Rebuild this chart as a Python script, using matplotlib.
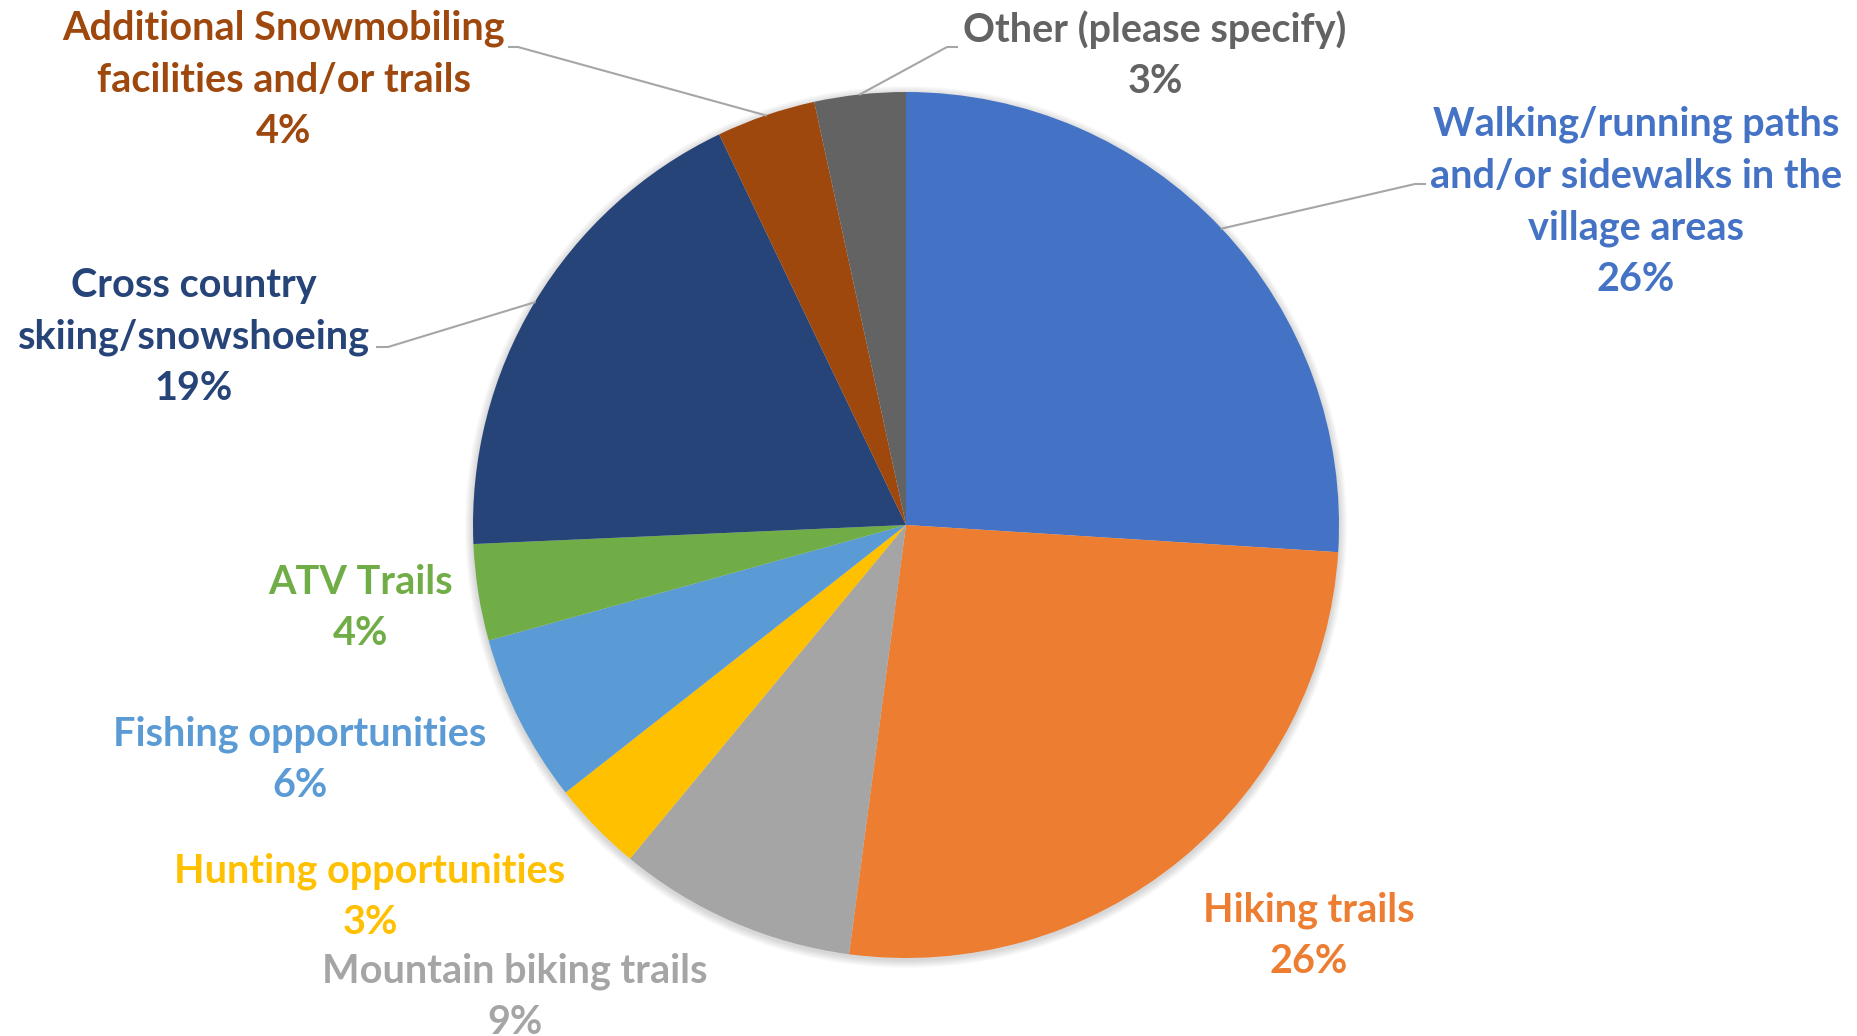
import numpy as np
import matplotlib.pyplot as plt
from matplotlib.patches import Circle

categories = [
    "Walking/running paths\nand/or sidewalks in the\nvillage areas",
    "Hiking trails",
    "Mountain biking trails",
    "Hunting opportunities",
    "Fishing opportunities",
    "ATV Trails",
    "Cross country\nskiing/snowshoeing",
    "Additional Snowmobiling\nfacilities and/or trails",
    "Other (please specify)",
]
shares = [26.0, 26.1, 8.9, 3.4, 6.3, 3.6, 18.6, 3.7, 3.4]
colors = ["#4472C4", "#ED7D31", "#A5A5A5", "#FFC000", "#5B9BD5",
          "#70AD47", "#264478", "#9E480E", "#636363"]

W, H = 1857, 1036
cx, cy, R = 906, 525, 433

# label centres in pixel coords (y down)
label_pos = [(1636, 202), (1309, 936), (515, 997), (370, 897), (300, 760),
             (361, 608), (194, 337), (284, 80), (1155, 55)]
# leader line elbows (pixel coords)
leaders = {0: [(1415, 184), (1425, 184)],
           6: [(388, 347), (377, 347)],
           7: [(518, 47), (509, 47)],
           8: [(947, 47), (957, 47)]}

plt.rcParams['font.family'] = ['Lato', 'DejaVu Sans']

fig = plt.figure(figsize=(W / 100, H / 100), dpi=100)
ax = fig.add_axes([0, 0, 1, 1])


def py(y):
    return H - y


# soft shadow round the pie
for k in range(8, 0, -1):
    ax.add_patch(Circle((cx, py(cy) - 2), R + k, color="black", alpha=0.018, lw=0, zorder=0))

wedges, _ = ax.pie(shares, colors=colors, startangle=90, counterclock=False,
                   center=(cx, py(cy)), radius=R, frame=True,
                   wedgeprops=dict(linewidth=0, zorder=1))

for i, (name, v) in enumerate(zip(categories, shares)):
    x, y = label_pos[i]
    ax.text(x, py(y), f"{name}\n{round(v)}%", color=colors[i], fontsize=28.5,
            fontweight="bold", ha="center", va="center", multialignment="center",
            linespacing=1.48, zorder=3)
    if i in leaders:
        w = wedges[i]
        mid = np.deg2rad((w.theta1 + w.theta2) / 2)
        pts = [(cx + R * np.cos(mid), py(cy) + R * np.sin(mid))]
        pts += [(px, py(yy)) for px, yy in leaders[i]]
        xs, ys = zip(*pts)
        ax.plot(xs, ys, color="#A6A6A6", lw=1.5, zorder=2)

ax.set_xlim(0, W)
ax.set_ylim(0, H)
ax.set_aspect("equal")
ax.axis("off")

fig.savefig("out.png", dpi=100, facecolor="white")
